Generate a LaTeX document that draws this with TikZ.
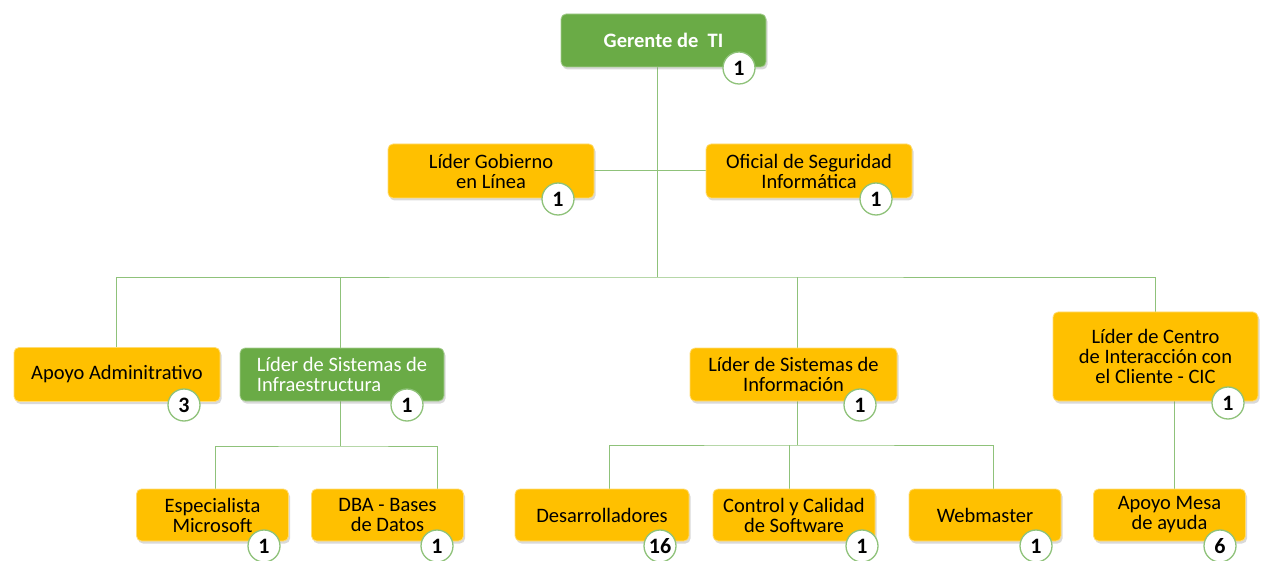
\documentclass[tikz,border=0pt]{standalone}
\usepackage{fontspec}
\setmainfont{Carlito}
\usetikzlibrary{shadows}
\definecolor{amarillo}{HTML}{FFC000}
\definecolor{verde}{HTML}{6AAB46}
\definecolor{linea}{HTML}{8FC27A}

\tikzset{
  cargo/.style={rounded corners=5pt, fill=amarillo, draw=amarillo!55!white, line width=0.8pt,
    align=center, inner sep=0pt, font=\fontsize{20.5}{20}\selectfont,
    drop shadow={opacity=0.3, shadow xshift=1.5pt, shadow yshift=-2.5pt}},
  jefe/.style={cargo, fill=verde, draw=verde!60!white, text=white},
  grande/.style={minimum width=206pt, minimum height=54pt},
  chico/.style={minimum width=152pt, minimum height=52pt},
  cuenta/.style={circle, fill=white, draw=linea, line width=1.3pt, minimum size=32pt,
    inner sep=0pt, font=\fontsize{22}{22}\selectfont\bfseries},
  conector/.style={draw=linea, line width=0.9pt}
}

\begin{document}
\begin{tikzpicture}[x=1pt, y=-1pt]
  \useasboundingbox (0,0) rectangle (1261,561);

  % puntos de las lineas
  \coordinate (bus) at (657,277);
  \coordinate (businfra) at (340,446);
  \coordinate (businfo) at (797,445);

  % lineas
  \draw[conector] (657,67) -- (bus);
  \draw[conector] (594,170) -- (706,170);
  \draw[conector] (116,348) |- (bus) -| (1155,312);
  \draw[conector] (340,348) -- (340,277);
  \draw[conector] (797,348) -- (797,277);
  \draw[conector] (340,401) -- (businfra);
  \draw[conector] (215,489) |- (businfra) -| (437,489);
  \draw[conector] (797,401) -- (businfo);
  \draw[conector] (609,489) |- (businfo) -| (993,489);
  \draw[conector] (789,445) -- (789,489);
  \draw[conector] (1174,401) -- (1174,489);

  % cargos
  \node[jefe, minimum width=205pt, minimum height=53pt, font=\fontsize{20.5}{20}\selectfont\bfseries] (gerente) at (663.5,40.5) {Gerente de\ \ TI};
  \node[cargo, grande] (gobierno) at (491,171) {Líder Gobierno\\en Línea};
  \node[cargo, grande] (oficial) at (809,171) {Oficial de Seguridad\\Informática};
  \node[cargo, grande] (apoyo) at (117,374.5) {Apoyo Adminitrativo};
  \node[jefe, minimum width=204pt, minimum height=53pt, align=left] (infra) at (342,374.5) {Líder de Sistemas de\\Infraestructura};
  \node[cargo, minimum width=207pt, minimum height=53pt] (informacion) at (793.5,374.5) {Líder de Sistemas de\\Información};
  \node[cargo, minimum width=205pt, minimum height=89pt] (cic) at (1155.5,356.5) {Líder de Centro\\de Interacción con\\el Cliente - CIC};
  \node[cargo, chico] (especialista) at (212.5,515) {Especialista\\Microsoft};
  \node[cargo, chico] (dba) at (387.5,515) {DBA - Bases\\de Datos};
  \node[cargo, minimum width=174pt, minimum height=52pt] (desarrolladores) at (602,515) {Desarrolladores};
  \node[cargo, minimum width=162pt, minimum height=52pt] (control) at (794,515) {Control y Calidad\\de Software};
  \node[cargo, chico] (webmaster) at (985,515) {Webmaster};
  \node[cargo, chico] (mesa) at (1169.5,515) {Apoyo Mesa\\de ayuda};

  % cantidades
  \node[cuenta] (gerente-n) at (739,68) {1};
  \node[cuenta] (gobierno-n) at (558,199) {1};
  \node[cuenta] (oficial-n) at (876,199) {1};
  \node[cuenta] (apoyo-n) at (184,405) {3};
  \node[cuenta] (infra-n) at (407,405) {1};
  \node[cuenta] (informacion-n) at (860,405) {1};
  \node[cuenta] (cic-n) at (1228,403) {1};
  \node[cuenta] (especialista-n) at (264,546) {1};
  \node[cuenta] (dba-n) at (437,546) {1};
  \node[cuenta] (desarrolladores-n) at (660,546) {16};
  \node[cuenta] (control-n) at (862,546) {1};
  \node[cuenta] (webmaster-n) at (1036,546) {1};
  \node[cuenta] (mesa-n) at (1220,546) {6};
\end{tikzpicture}
\end{document}
